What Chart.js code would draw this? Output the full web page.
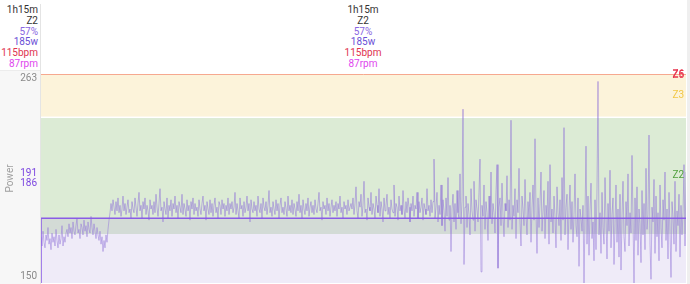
<!DOCTYPE html>
<html>
<head>
<meta charset="utf-8">
<script src="https://cdn.jsdelivr.net/npm/chart.js@4.4.1/dist/chart.umd.min.js"></script>
<style>
  html, body { margin: 0; padding: 0; background: #fff; }
  body { width: 690px; height: 284px; position: relative; overflow: hidden; font-family: Roboto, "Noto Sans", sans-serif; }
  .leftPanel { position: absolute; left: 0; top: 70px; width: 40px; height: 214px; background: #f7f7f7; border-top: 1px solid #ececec; }
  .sep { position: absolute; left: 40px; top: 4px; width: 1px; height: 280px; background: #e4e4e4; }
  .rightEdge { position: absolute; left: 687px; top: 0; width: 3px; height: 284px; background: #efefef; }
  .stats { position: absolute; top: 5px; font-size: 10px; line-height: 10.8px; }
  .stats div { white-space: nowrap; }
  #statsLeft { left: 0; width: 38px; text-align: right; }
  #statsMid { left: 40px; width: 646px; text-align: center; }
  #chartBox { position: absolute; left: 0; top: 0; width: 690px; height: 284px; }
</style>
</head>
<body>
<div class="leftPanel"></div>
<div class="sep"></div>
<div class="rightEdge"></div>
<div class="stats" id="statsLeft"></div>
<div class="stats" id="statsMid"></div>
<div id="chartBox"><canvas id="powerChart" width="690" height="284"></canvas></div>
<script>
// summary lines shown above the chart
const statTexts = ["1h15m", "Z2", "57%", "185w", "115bpm", "87rpm"];
const statColors = ["#333", "#333", "#8a66e2", "#6a4fd6", "#e0334f", "#e046ee"];

// power trace (watts), roughly one sample per pixel across the ride
const powerWatts = [
  // warm-up
  175, 170, 178, 172, 169, 176, 173, 180, 171, 174, 168, 177, 172, 175, 170, 179, 173, 169, 176, 171,
  174, 181, 170, 175, 172, 177,
  179, 175, 182, 177, 180, 174, 183, 178, 176, 181, 185, 177, 179, 174, 182, 180, 176, 184, 178, 181,
  175, 183, 179, 177, 186, 180, 176, 182, 178, 174, 180, 176, 173, 178,
  171, 175, 167, 173, 169, 176, 172, 179, 184, 188, 193, 189, 195,
  // steady block
  191, 187, 194, 189, 196, 188, 192, 186, 190, 197, 189, 193, 187, 191, 195, 188, 190, 185, 194, 190,
  188, 196, 191, 186, 193, 199, 189, 192, 185, 194, 190, 196, 187, 192, 189, 184, 195, 190, 192, 187,
  194, 188, 198, 191, 186, 193, 201, 189, 191, 183, 194, 190, 187, 196, 185, 192, 189, 195, 186, 193,
  190, 197, 188, 192, 185, 194, 191, 188, 198, 187, 193, 190, 186, 195, 189, 192, 184, 194, 190, 196,
  187, 193, 189, 191, 186, 195, 190, 187, 193, 197, 189, 192, 184, 194, 190, 187, 195, 188, 193, 186,
  192, 196, 188, 191, 185, 194, 192, 187, 195, 190, 193, 186, 192, 189, 196, 187, 193, 190, 194, 188,
  191, 199, 187, 193, 189, 185, 196, 190, 192, 186, 194, 188, 191, 197, 189, 193, 183, 195, 190, 188,
  194, 189, 192, 186, 197, 190, 188, 193, 185, 196, 191, 189, 194, 187, 192, 200, 188, 191, 186, 194,
  190, 187, 195, 189, 193, 185, 192, 196, 188, 191, 187, 194, 190, 186, 197, 189, 192, 188, 195, 187,
  193, 190, 186, 194, 189, 198, 188, 192, 185, 195, 190, 187, 193, 189, 196, 186, 191, 194, 188, 192,
  187, 195, 190, 188, 193, 199, 189, 191, 184, 194, 190, 192, 187, 196, 189, 193, 186, 191, 195, 188,
  192, 189, 194, 186, 193, 190, 197, 188, 191, 185, 194, 190, 192, 187, 195, 189, 191, 193,
  190, 196, 187, 193, 202, 189, 185, 194, 191, 198, 186, 192, 205, 188, 190, 184, 196, 191, 189, 199,
  187, 193, 190, 185, 197, 192, 188, 201, 186, 194, 190, 183, 196, 189, 192, 198, 187, 191, 185, 195,
  190, 188, 203, 186, 193, 191, 184, 197, 189, 192, 187, 200, 190, 185, 194, 188, 196, 191, 183, 193,
  189, 197, 186, 192, 190, 199, 185, 194, 188, 191, 196, 184, 193, 190, 187, 201, 189, 192, 186, 195,
  // surges
  188, 194, 217, 185, 191, 199, 183, 192, 187, 203, 181, 195, 189, 178, 196, 186, 207, 184, 192, 167,
  190, 198, 183, 193, 179, 200, 188, 185, 209, 182, 194, 244, 160, 191, 197, 180, 193, 187, 176, 201,
  189, 184, 205, 178, 195, 190, 183, 199, 217, 156, 192, 186, 203, 179, 194, 188, 173, 197, 185, 210,
  182, 193, 188, 177, 199, 214, 158, 191, 196, 181, 204, 186, 175, 193, 189, 208, 180, 195, 184, 238,
  179, 192, 186, 201, 174, 195, 188, 212, 183, 170, 197, 190, 181, 206, 187, 176, 194, 185, 199, 172,
  191, 203, 184, 228, 189, 166, 196, 180, 193, 210, 178, 188, 200, 174, 192, 185, 205, 171, 214, 183,
  190, 177, 197, 186, 169, 202, 188, 181, 195, 173, 207, 184, 234, 176, 191, 198, 168, 189, 203, 179,
  194, 172, 187, 209, 181, 175, 196, 159, 190, 185,
  // final part
  178, 192, 150, 186, 224, 171, 197, 165, 189, 204, 174, 183, 162, 195, 168, 201, 259, 176, 188, 166,
  199, 180, 171, 207, 185, 163, 193, 178, 211, 169, 187, 196, 160, 182, 203, 172, 190, 164, 198, 157,
  186, 205, 175, 167, 194, 181, 209, 170, 188, 177, 219, 184, 150, 196, 173, 202, 165, 190, 182, 161,
  200, 176, 193, 168, 212, 179, 187, 230, 171, 152, 191, 183, 206, 166, 197, 175, 188, 162, 203, 180,
  169, 195, 184, 210, 173, 190, 163, 199, 178, 153, 194, 186, 171, 205, 167, 189, 181, 198, 164, 192,
  176, 188, 214, 170, 210
];
const avgPower = 185;

// y axis
const yMin = 150;
const yMax = 263;
const yTickLabels = ["263", "191", "186", "150"];

// zones (watts)
const zoneNames = ["Z1", "Z2", "Z3"];
const zoneLow = [0, 176.5, 240];
const zoneHigh = [176.5, 240, 263];
const topZoneNames = ["Z5", "Z6"];

document.getElementById("statsLeft").innerHTML =
  statTexts.map((t, i) => `<div style="color:${statColors[i]}">${t}</div>`).join("");
document.getElementById("statsMid").innerHTML =
  statTexts.map((t, i) => `<div style="color:${statColors[i]}">${t}</div>`).join("");

const zoneFill = { Z1: "rgba(255,255,255,0)", Z2: "#dcebd5", Z3: "#fcf3da" };
const zoneText = { Z2: "#4f9f3c", Z3: "#f2c744", Z5: "#e8364f", Z6: "#e8364f" };

// where the tick labels sit (scale values), labels nudged like the original
const yTickPos = [260.8, 209.2, 203.8, 153.3];

const zonesPlugin = {
  id: "zones",
  beforeDatasetsDraw(chart) {
    const { ctx, chartArea: a, scales: { y } } = chart;
    ctx.save();
    ctx.beginPath();
    ctx.rect(a.left, a.top, a.right - a.left, a.bottom - a.top);
    ctx.clip();
    zoneNames.forEach((z, i) => {
      const top = y.getPixelForValue(zoneHigh[i]);
      const bot = y.getPixelForValue(zoneLow[i]);
      ctx.fillStyle = zoneFill[z];
      const t = top <= a.top + 1 ? a.top : top + 1.5;
      ctx.fillRect(a.left, t, a.right - a.left, bot - t);
    });
    // zone above the visible range shows as a line along the top
    ctx.strokeStyle = "#f6a88f";
    ctx.lineWidth = 1;
    ctx.beginPath();
    ctx.moveTo(a.left, y.getPixelForValue(yMax) + 0.5);
    ctx.lineTo(a.right, y.getPixelForValue(yMax) + 0.5);
    ctx.stroke();
    ctx.restore();
  },
  afterDatasetsDraw(chart) {
    const { ctx, chartArea: a, scales: { y } } = chart;
    ctx.save();
    ctx.font = "10px Roboto, sans-serif";
    ctx.textAlign = "right";
    ctx.textBaseline = "middle";
    zoneNames.forEach((z, i) => {
      if (z === "Z1") return;
      const mid = (y.getPixelForValue(Math.min(zoneHigh[i], yMax)) + y.getPixelForValue(Math.max(zoneLow[i], yMin))) / 2;
      ctx.fillStyle = zoneText[z];
      ctx.fillText(z, a.right - 2, mid);
    });
    topZoneNames.forEach((z, i) => {
      ctx.fillStyle = zoneText[z];
      ctx.fillText(z, a.right - 2, y.getPixelForValue(yMax) + 1 - i);
    });
    ctx.restore();
  }
};

const lastIndex = powerWatts.length - 1;

new Chart(document.getElementById("powerChart"), {
  type: "line",
  data: {
    datasets: [
      {
        label: "Average",
        data: [{ x: 0, y: yMin }, { x: 0, y: avgPower }, { x: lastIndex, y: avgPower }],
        borderColor: "#8a5ce6",
        borderWidth: 1.5,
        backgroundColor: "rgba(175,155,220,0.2)",
        fill: "start",
        pointRadius: 0,
        tension: 0
      },
      {
        label: "Power",
        data: powerWatts.map((v, i) => ({ x: i, y: v })),
        borderColor: "rgba(140,110,215,0.5)",
        borderWidth: 1,
        fill: false,
        pointRadius: 0,
        tension: 0
      }
    ]
  },
  options: {
    responsive: false,
    devicePixelRatio: 1,
    animation: false,
    layout: { padding: { top: 74, right: 4, bottom: 1, left: 0 } },
    plugins: { legend: { display: false }, tooltip: { enabled: false } },
    scales: {
      x: { type: "linear", display: false, min: 0, max: lastIndex },
      y: {
        min: yMin,
        max: yMax,
        grid: { display: false, drawTicks: false },
        border: { display: false },
        afterFit: s => { s.width = 41; s.paddingTop = 0; s.paddingBottom = 0; },
        afterBuildTicks: s => { s.ticks = yTickPos.map(v => ({ value: v })); },
        ticks: {
          autoSkip: false,
          padding: 4,
          font: { size: 10, family: "Roboto" },
          color: c => (c.index === 1 || c.index === 2) ? "#7b45e0" : "#8a8a8a",
          callback: (v, i) => yTickLabels[i]
        },
        title: {
          display: true,
          text: "Power",
          color: "#a0a0a0",
          font: { size: 10, family: "Roboto" },
          padding: { top: 4, bottom: 0 }
        }
      }
    }
  },
  plugins: [zonesPlugin]
});
</script>
</body>
</html>
